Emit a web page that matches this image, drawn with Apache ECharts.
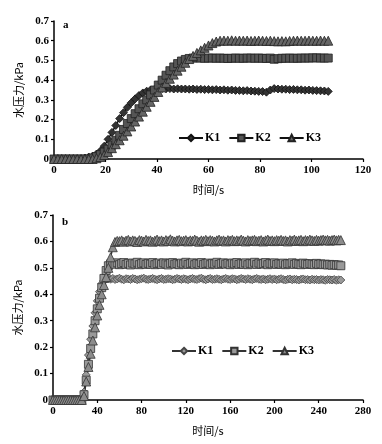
<!DOCTYPE html>
<html><head><meta charset="utf-8">
<script src="https://cdn.jsdelivr.net/npm/echarts@6/dist/echarts.min.js"></script>
<style>html,body{margin:0;padding:0;background:#fff;}#a{position:absolute;left:0;top:0;width:382px;height:200px;}#b{position:absolute;left:0;top:200px;width:382px;height:244px;}</style>
</head><body><div id="a"></div><div id="b"></div>
<script>
// ---------- Panel a data ----------
var timeA = [0,1.5,3,4.5,6,7.5,9,10.5,12,13.5,15,16.5,18,19.5,21,22.5,24,25.5,27,28.5,30,31.5,33,34.5,36,37.5,39,40.5,42,43.5,45,46.5,48,49.5,51,52.5,54,55.5,57,58.5,60,61.5,63,64.5,66,67.5,69,70.5,72,73.5,75,76.5,78,79.5,81,82.5,84,85.5,87,88.5,90,91.5,93,94.5,96,97.5,99,100.5,102,103.5,105,106.5];
var aK1 = [0,0,0,0,0,0,0,0,0.005,0.01,0.015,0.025,0.04,0.065,0.1,0.135,0.17,0.205,0.235,0.262,0.285,0.305,0.322,0.335,0.344,0.35,0.353,0.356,0.357,0.356,0.357,0.355,0.356,0.355,0.355,0.354,0.355,0.353,0.354,0.352,0.353,0.351,0.352,0.35,0.351,0.349,0.35,0.348,0.348,0.346,0.347,0.345,0.344,0.343,0.342,0.339,0.35,0.357,0.355,0.354,0.354,0.352,0.353,0.351,0.351,0.349,0.35,0.348,0.347,0.346,0.345,0.343];
var aK2 = [0,0,0,0,0,0,0,0,0,0,0.005,0.012,0.022,0.035,0.05,0.07,0.095,0.12,0.15,0.18,0.205,0.23,0.255,0.28,0.3,0.325,0.35,0.375,0.4,0.425,0.448,0.467,0.484,0.497,0.505,0.51,0.512,0.513,0.512,0.511,0.512,0.512,0.511,0.512,0.511,0.51,0.511,0.512,0.511,0.511,0.512,0.512,0.511,0.512,0.511,0.51,0.512,0.506,0.509,0.511,0.511,0.512,0.511,0.511,0.512,0.512,0.512,0.513,0.513,0.512,0.512,0.512];
var aK3 = [0,0,0,0,0,0,0,0,0,0,0,0.004,0.01,0.02,0.035,0.055,0.075,0.095,0.118,0.14,0.165,0.19,0.215,0.24,0.265,0.29,0.315,0.34,0.363,0.386,0.407,0.428,0.448,0.468,0.488,0.507,0.523,0.538,0.551,0.564,0.576,0.588,0.596,0.6,0.601,0.6,0.602,0.6,0.601,0.6,0.601,0.599,0.6,0.601,0.6,0.599,0.6,0.598,0.597,0.598,0.597,0.599,0.6,0.601,0.6,0.6,0.601,0.6,0.6,0.601,0.6,0.6];

// ---------- Panel b data ----------
var timeB = [0,2,4,6,8,10,12,14,16,18,20,22,24,26,28,30,32,34,36,38,40,42,44,46,48,50,52,54,56,58,60,62,64,66,68,70,72,74,76,78,80,82,84,86,88,90,92,94,96,98,100,102,104,106,108,110,112,114,116,118,120,122,124,126,128,130,132,134,136,138,140,142,144,146,148,150,152,154,156,158,160,162,164,166,168,170,172,174,176,178,180,182,184,186,188,190,192,194,196,198,200,202,204,206,208,210,212,214,216,218,220,222,224,226,228,230,232,234,236,238,240,242,244,246,248,250,252,254,256,258,260];
var bK1 = [0,0,0,0,0,0,0,0,0,0,0,0,0,0,0.03,0.095,0.17,0.23,0.28,0.33,0.375,0.41,0.44,0.452,0.458,
0.459,0.457,0.46,0.456,0.458,0.461,0.457,0.455,0.459,0.458,
0.456,0.46,0.458,0.455,0.457,0.459,0.461,0.457,0.456,0.458,
0.46,0.457,0.455,0.458,0.46,0.456,0.457,0.459,0.458,0.455,
0.457,0.46,0.458,0.456,0.459,0.457,0.455,0.458,0.46,0.457,
0.456,0.459,0.461,0.457,0.455,0.458,0.46,0.456,0.457,0.459,
0.457,0.455,0.458,0.46,0.457,0.456,0.459,0.458,0.455,0.457,
0.46,0.458,0.456,0.459,0.457,0.455,0.458,0.46,0.457,0.456,
0.458,0.455,0.457,0.459,0.456,0.458,0.455,0.457,0.459,0.456,
0.454,0.457,0.458,0.455,0.457,0.456,0.454,0.457,0.458,0.455,
0.456,0.454,0.457,0.455,0.456,0.454,0.456,0.455,0.453,0.456,
0.455,0.454,0.456,0.453,0.455,0.454];
var bK2 = [0,0,0,0,0,0,0,0,0,0,0,0,0,0,0.02,0.075,0.135,0.195,0.25,0.3,0.345,0.385,0.425,0.46,0.49,0.508,0.515,
0.517,0.514,0.519,0.512,0.516,0.52,0.513,0.517,0.511,0.518,
0.515,0.521,0.512,0.516,0.519,0.513,0.517,0.514,0.52,0.512,
0.516,0.518,0.513,0.519,0.515,0.511,0.517,0.52,0.514,0.516,
0.512,0.518,0.515,0.521,0.513,0.516,0.519,0.512,0.517,0.514,
0.52,0.513,0.516,0.518,0.512,0.517,0.515,0.521,0.513,0.516,
0.519,0.514,0.517,0.512,0.518,0.515,0.52,0.513,0.516,0.514,
0.519,0.512,0.517,0.515,0.521,0.513,0.518,0.514,0.516,0.52,
0.512,0.517,0.515,0.519,0.513,0.516,0.514,0.518,0.512,0.516,
0.515,0.519,0.513,0.517,0.514,0.512,0.518,0.515,0.513,0.516,
0.514,0.512,0.517,0.513,0.515,0.512,0.514,0.511,0.513,0.51,
0.512,0.51,0.511,0.508];
var bK3 = [0,0,0,0,0,0,0,0,0,0,0,0,0,0,0.015,0.07,0.125,0.175,0.225,0.275,0.32,0.36,0.4,0.435,0.465,0.5,0.54,0.578,0.598,0.602,
0.601,0.604,0.599,0.603,0.606,0.6,0.604,0.602,0.598,0.605,
0.603,0.6,0.606,0.602,0.604,0.599,0.603,0.607,0.601,0.604,
0.6,0.605,0.602,0.608,0.603,0.6,0.604,0.606,0.601,0.603,
0.605,0.6,0.604,0.602,0.607,0.603,0.599,0.604,0.602,0.606,
0.601,0.605,0.603,0.6,0.604,0.607,0.602,0.604,0.6,0.605,
0.603,0.606,0.601,0.604,0.602,0.607,0.603,0.6,0.605,0.602,
0.604,0.606,0.601,0.603,0.605,0.6,0.604,0.607,0.602,0.604,
0.601,0.605,0.603,0.606,0.602,0.604,0.6,0.605,0.603,0.607,
0.602,0.604,0.606,0.601,0.605,0.603,0.607,0.604,0.602,0.606,
0.603,0.605,0.607,0.604,0.606,0.603,0.605,0.607,0.604,0.606,
0.605];

var seriesNames = ['K1','K2','K3'];
var xTicksA = {min:0, max:120, interval:20};
var xTicksB = {min:0, max:280, interval:40};
var yTicks = {min:0, max:0.7, interval:0.1};
var yName = '水压力/kPa';
var xName = '时间/s';

function pairs(t, v){ return t.map(function(x,i){ return [x, v[i]]; }); }

var serif = 'Liberation Serif';
var cjk = '"Noto Sans CJK SC", "Liberation Serif"';

function axes(xt, nameGapX){
  return {
    xAxis: {type:'value', min:xt.min, max:xt.max, interval:xt.interval,
      name:xName, nameLocation:'middle', nameGap:nameGapX,
      nameTextStyle:{fontFamily:cjk, fontSize:11, color:'#000'},
      axisLine:{lineStyle:{color:'#000', width:1.5}},
      axisTick:{inside:false, length:3, lineStyle:{color:'#000', width:1.2}},
      axisLabel:{color:'#000', fontFamily:serif, fontWeight:'bold', fontSize:11, margin:6},
      splitLine:{show:false}},
    yAxis: {type:'value', min:yTicks.min, max:yTicks.max, interval:yTicks.interval,
      name:yName, nameLocation:'middle', nameGap:30, nameRotate:90,
      nameTextStyle:{fontFamily:cjk, fontSize:11, color:'#000'},
      axisLine:{show:true, lineStyle:{color:'#000', width:1.5}},
      axisTick:{show:true, inside:false, length:3, lineStyle:{color:'#000', width:1.2}},
      axisLabel:{color:'#000', fontFamily:serif, fontWeight:'bold', fontSize:11, margin:5,
        formatter:function(v){ return v===0 ? '0' : v.toFixed(1); }},
      splitLine:{show:false}}
  };
}

// Panel a
var chA = echarts.init(document.getElementById('a'), null, {renderer:'canvas'});
var axA = axes(xTicksA, 25);
var styleA = [
  {symbol:'diamond', size:8, fill:'#333', border:'#111'},
  {symbol:'rect', size:8, fill:'#555', border:'#222'},
  {symbol:'triangle', size:9, fill:'#666', border:'#222'}
];
var dataA = [aK1, aK2, aK3];
chA.setOption({
  animation:false, backgroundColor:'#fff',
  grid:{left:54, top:21, width:309, height:143},
  xAxis:axA.xAxis, yAxis:axA.yAxis,
  legend:{left:173, top:127, itemWidth:24, itemHeight:8, itemGap:8,
    data:seriesNames, textStyle:{fontFamily:serif, fontWeight:'bold', fontSize:12, color:'#000', padding:[0,0,0,-3]}},
  graphic:[{type:'text', left:63, top:20, style:{text:'a', font:'bold 11px "Liberation Serif"', fill:'#000'}}],
  series: seriesNames.map(function(n,i){
    return {name:n, type:'line', data:pairs(timeA, dataA[i]), symbol:styleA[i].symbol, symbolSize:styleA[i].size,
      showSymbol:true, showAllSymbol:true,
      itemStyle:{color:styleA[i].fill, borderColor:styleA[i].border, borderWidth:0.8},
      lineStyle:{color:'#111', width:1.5}};
  })
});

// Panel b
var chB = echarts.init(document.getElementById('b'), null, {renderer:'canvas'});
var axB = axes(xTicksB, 25);
var styleB = [
  {symbol:'diamond', size:8, fill:'#9a9a9a', border:'#444'},
  {symbol:'rect', size:8, fill:'#999', border:'#333'},
  {symbol:'triangle', size:9, fill:'#8c8c8c', border:'#333'}
];
var dataB = [bK1, bK2, bK3];
chB.setOption({
  animation:false, backgroundColor:'#fff',
  grid:{left:53, top:15, width:310, height:185},
  xAxis:axB.xAxis, yAxis:axB.yAxis,
  legend:{left:166, top:140, itemWidth:24, itemHeight:8, itemGap:8,
    data:seriesNames, textStyle:{fontFamily:serif, fontWeight:'bold', fontSize:12, color:'#000', padding:[0,0,0,-3]}},
  graphic:[{type:'text', left:62, top:17, style:{text:'b', font:'bold 11px "Liberation Serif"', fill:'#000'}}],
  series: seriesNames.map(function(n,i){
    return {name:n, type:'line', data:pairs(timeB, dataB[i]), symbol:styleB[i].symbol, symbolSize:styleB[i].size,
      showSymbol:true, showAllSymbol:true,
      itemStyle:{color:styleB[i].fill, borderColor:styleB[i].border, borderWidth:0.8},
      lineStyle:{color:'#333', width:1.5}};
  })
});
</script></body></html>
